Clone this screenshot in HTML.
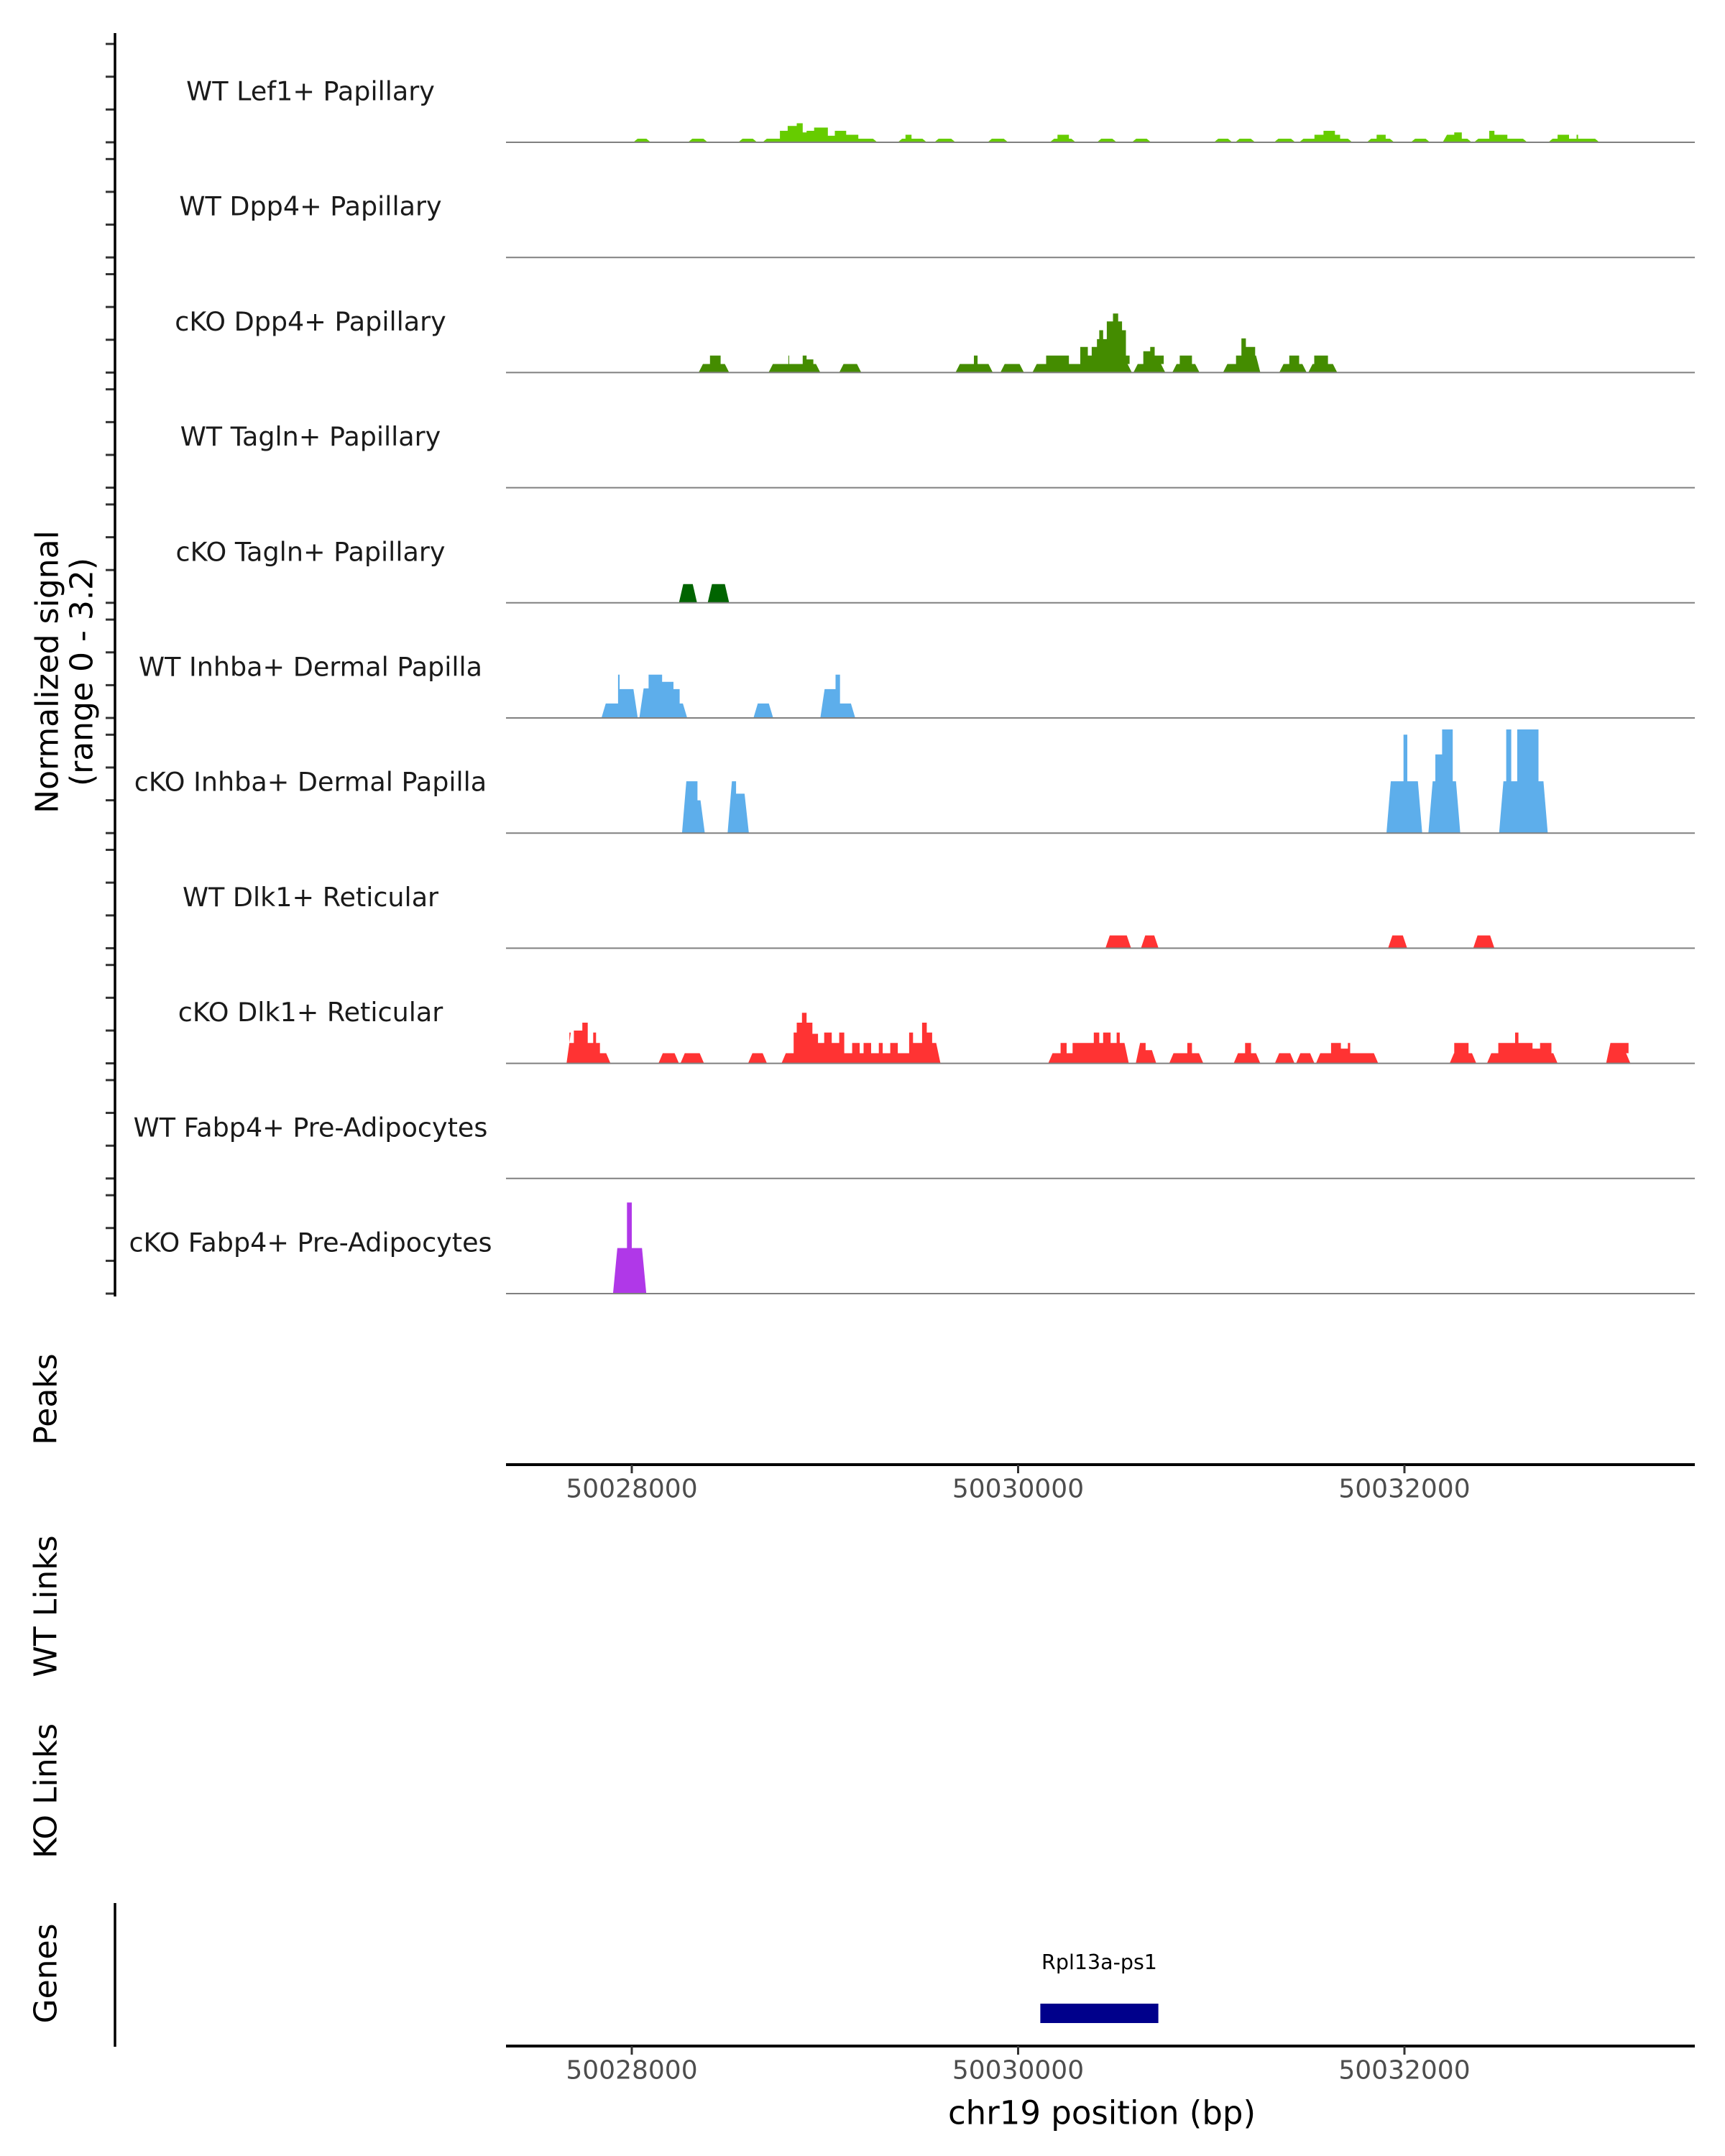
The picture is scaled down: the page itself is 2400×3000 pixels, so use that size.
<!DOCTYPE html>
<html><head><meta charset="utf-8">
<style>
html,body{margin:0;padding:0;background:#fff;}
svg{display:block;font-family:"DejaVu Sans","Liberation Sans",sans-serif;}
</style></head>
<body>
<svg id="chart" width="2400" height="3000" viewBox="0 0 2400 3000" xmlns="http://www.w3.org/2000/svg">
<g id="tracks"></g>
<g id="axes"></g>
</svg>
<script>
// genomic data: bins are [start, end, value], start/end offsets from BASE bp
const BASE = 50027000;
const trackNames = ["WT Lef1+ Papillary","WT Dpp4+ Papillary","cKO Dpp4+ Papillary","WT Tagln+ Papillary","cKO Tagln+ Papillary","WT Inhba+ Dermal Papilla","cKO Inhba+ Dermal Papilla","WT Dlk1+ Reticular","cKO Dlk1+ Reticular","WT Fabp4+ Pre-Adipocytes","cKO Fabp4+ Pre-Adipocytes"];
const trackColors = ["#66cc00","#448c00","#448c00","#006400","#006400","#5daeeb","#5daeeb","#ff3333","#ff3333","#b038e8","#b038e8"];
const wtLef1 = [[1008,1098,.11],[1291,1393,.11],[1551,1649,.11],[1677,1767,.11],[1767,1807,.35],[1807,1854,.5],[1854,1885,.58],[1885,1905,.3],[1905,1944,.35],[1944,2015,.45],[2015,2051,.2],[2051,2074,.35],[2074,2110,.35],[2110,2173,.23],[2173,2271,.11],[2377,2417,.11],[2417,2448,.23],[2448,2527,.11],[2566,2676,.11],[2842,2948,.11],[3164,3204,.11],[3204,3263,.23],[3263,3298,.11],[3408,3510,.11],[3589,3688,.11],[4014,4109,.11],[4124,4227,.11],[4325,4435,.11],[4455,4534,.11],[4534,4581,.23],[4581,4640,.35],[4640,4667,.23],[4667,4730,.11],[4805,4856,.11],[4856,4903,.23],[4903,4947,.11],[5033,5132,.11],[5198,5258,.23],[5258,5297,.3],[5297,5348,.11],[5360,5439,.11],[5439,5466,.35],[5466,5533,.23],[5533,5636,.11],[5745,5793,.11],[5793,5852,.23],[5852,5891,.11],[5891,5899,.23],[5899,6009,.11]];
const wtDpp4 = [];
const ckoDpp4 = [[1346,1405,.26],[1405,1460,.52],[1460,1504,.26],[1708,1811,.26],[1811,1815,.52],[1815,1885,.26],[1885,1905,.52],[1905,1940,.4],[1940,1976,.26],[2074,2188,.26],[2676,2771,.26],[2771,2790,.52],[2790,2869,.26],[2908,3030,.26],[3074,3145,.26],[3145,3263,.52],[3263,3322,.26],[3322,3361,.78],[3361,3381,.52],[3381,3408,.78],[3408,3420,1.02],[3420,3440,1.29],[3440,3459,1.02],[3459,3491,1.56],[3491,3518,1.8],[3518,3538,1.56],[3538,3558,1.29],[3558,3577,.52],[3577,3589,.26],[3597,3648,.26],[3648,3684,.65],[3684,3707,.78],[3707,3754,.52],[3754,3762,.26],[3798,3837,.26],[3837,3900,.52],[3900,3939,.26],[4061,4128,.26],[4128,4156,.52],[4156,4179,1.04],[4179,4227,.78],[4227,4254,.52],[4352,4404,.26],[4404,4455,.52],[4455,4494,.26],[4502,4533,.26],[4533,4604,.52],[4604,4652,.26]];
const wtTagln = [];
const ckoTagln = [[1244,1338,.57],[1393,1504,.57]];
const wtInhba = [[843,929,.44],[929,937,1.32],[937,1031,.88],[1039,1087,.9],[1087,1157,1.32],[1157,1216,1.1],[1216,1248,.88],[1248,1287,.44],[1630,1732,.44],[1976,2055,.88],[2055,2078,1.32],[2078,2157,.44]];
const ckoInhba = [[1260,1340,1.58],[1340,1378,1.0],[1496,1540,1.58],[1540,1606,1.2],[4907,4995,1.58],[4995,5015,3.0],[5015,5092,1.58],[5124,5160,1.58],[5160,5195,2.4],[5195,5250,3.16],[5250,5289,1.58],[5490,5527,1.58],[5527,5553,3.16],[5553,5584,1.58],[5584,5694,3.16],[5694,5742,1.58]];
const wtDlk1 = [[3452,3585,.39],[3636,3727,.39],[4915,5014,.39],[5356,5466,.39]];
const ckoDlk1 = [[662,677,.94],[677,700,.62],[700,744,1.0],[744,772,1.24],[772,800,.62],[800,815,.94],[815,835,.62],[835,890,.31],[1138,1244,.31],[1252,1374,.31],[1602,1700,.31],[1775,1838,.31],[1838,1854,.94],[1854,1881,1.24],[1881,1905,1.54],[1905,1935,1.24],[1935,1964,.9],[1964,1996,.62],[1996,2035,.94],[2035,2074,.62],[2074,2100,.94],[2100,2141,.31],[2141,2180,.62],[2180,2200,.31],[2200,2239,.62],[2239,2279,.31],[2279,2299,.62],[2299,2338,.31],[2338,2377,.62],[2377,2436,.31],[2436,2456,.94],[2456,2503,.62],[2503,2527,1.24],[2527,2555,.94],[2555,2598,.62],[3156,3220,.31],[3220,3251,.62],[3251,3282,.31],[3282,3392,.62],[3392,3420,.94],[3420,3440,.62],[3440,3479,.94],[3479,3510,.62],[3510,3526,.94],[3526,3573,.62],[3609,3660,.62],[3660,3715,.4],[3782,3876,.31],[3876,3900,.62],[3900,3959,.31],[4116,4175,.31],[4175,4206,.62],[4206,4254,.31],[4329,4431,.31],[4439,4534,.31],[4542,4620,.31],[4620,4671,.62],[4671,4707,.45],[4707,4719,.62],[4719,4864,.31],[5234,5258,.31],[5258,5332,.62],[5332,5372,.31],[5427,5486,.31],[5486,5573,.62],[5573,5590,.94],[5590,5663,.62],[5663,5702,.45],[5702,5761,.62],[5761,5793,.31],[6044,6160,.62],[6160,6170,.31]];
const wtFabp4 = [];
const ckoFabp4 = [[903,975,1.39],[975,1000,2.78],[1000,1075,1.39]];
const trackData = [wtLef1,wtDpp4,ckoDpp4,wtTagln,ckoTagln,wtInhba,ckoInhba,wtDlk1,ckoDlk1,wtFabp4,ckoFabp4];
const xTicks = [50028000,50030000,50032000];
const yMax = 3.2;
const gene = {name:"Rpl13a-ps1", start:50030115, end:50030726};

const NS = "http://www.w3.org/2000/svg";
const X0 = 704, X1 = 2358;
const xScale = bp => 879 + (bp - 50028000) * 0.26875;
const TRACK_TOP0 = 198, TRACK_STEP = 160.2, TRACK_H = 146;
const baseY = i => TRACK_TOP0 + i * TRACK_STEP;
const yScale = (i, v) => baseY(i) - v / yMax * TRACK_H;
function mk(tag, attrs, parent){ const e=document.createElementNS(NS,tag); for(const k in attrs) e.setAttribute(k,attrs[k]); parent.appendChild(e); return e; }
const tracks = document.getElementById('tracks');
const axes = document.getElementById('axes');

trackData.forEach((bins, i) => {
  const g = mk('g', {}, tracks);
  
  
  const runs = []; let cur = null;
  bins.forEach(b => {
    if (cur && Math.abs(cur[cur.length-1][1] - b[0]) < 1) cur.push(b);
    else { cur = [b]; runs.push(cur); }
  });
  runs.forEach(run => {
    const pts = [];
    const ramp = 6;
    pts.push([xScale(BASE+run[0][0]), baseY(i)]);
    run.forEach((b, k) => {
      const xa = xScale(BASE+b[0]) + (k===0?ramp:0);
      const xb = xScale(BASE+b[1]) - (k===run.length-1?ramp:0);
      pts.push([xa, yScale(i,b[2])]); pts.push([xb, yScale(i,b[2])]);
    });
    pts.push([xScale(BASE+run[run.length-1][1]), baseY(i)]);
    const p = mk('polygon', {points: pts.map(q=>q[0].toFixed(1)+','+q[1].toFixed(1)).join(' '), fill: trackColors[i]}, g);
    
    
  });
  const ln = mk('line', {x1:X0, x2:X1, y1:baseY(i), y2:baseY(i), stroke:'#808080', 'stroke-width':2}, g);
  
  
  const t = mk('text', {x:432, y:baseY(i)-71, 'text-anchor':'middle', 'dominant-baseline':'central', 'font-size':36.5, fill:'#1a1a1a'}, g);
  t.textContent = trackNames[i];
  
  
  for (let k=0;k<4;k++){
    const ty = baseY(i) - k * TRACK_H / yMax;
    const tk = mk('line', {x1:147, x2:159, y1:ty, y2:ty, stroke:'#333', 'stroke-width':3}, axes);
    
    
  }
});
const yAxis = mk('line', {x1:160, x2:160, y1:46, y2:1804, stroke:'#000', 'stroke-width':3.5}, axes);



function vtext(txt, x, y, size, name){
  const t = mk('text', {x:x, y:y, transform:`rotate(-90 ${x} ${y})`, 'text-anchor':'middle', 'dominant-baseline':'central', 'font-size':size, fill:'#000'}, axes);
  t.textContent = txt;
  
  
}
vtext('Normalized signal', 66, 935, 44, 'y-axis-title');
vtext('(range 0 - 3.2)', 114, 935, 44, 'y-axis-range');
vtext('Peaks', 64, 1947, 44, 'peaks-title');
vtext('WT Links', 64, 2235, 44, 'wt-links-title');
vtext('KO Links', 64, 2492, 44, 'ko-links-title');
vtext('Genes', 64, 2746, 44, 'genes-title');

function xAxis(y, name){
  const l = mk('line', {x1:X0, x2:X1, y1:y, y2:y, stroke:'#000', 'stroke-width':4}, axes);
  
  
  xTicks.forEach(v => {
    const tk = mk('line', {x1:xScale(v), x2:xScale(v), y1:y, y2:y+12, stroke:'#333', 'stroke-width':3}, axes);
    
    
    const t = mk('text', {x:xScale(v), y:y+34, 'text-anchor':'middle', 'dominant-baseline':'central', 'font-size':36, fill:'#4d4d4d'}, axes);
    t.textContent = String(v);
    
    
  });
}
xAxis(2038, 'peaks-x-axis');
xAxis(2847, 'genes-x-axis');

const gl = mk('line', {x1:160, x2:160, y1:2648, y2:2848, stroke:'#000', 'stroke-width':3.5}, axes);


const gr = mk('rect', {x:xScale(gene.start), y:2788, width:xScale(gene.end)-xScale(gene.start), height:27, fill:'#00008b'}, axes);


const gt = mk('text', {x:(xScale(gene.start)+xScale(gene.end))/2, y:2740, 'text-anchor':'middle', 'font-size':28.5, fill:'#000'}, axes);
gt.textContent = gene.name;


const xt = mk('text', {x:1533, y:2940, 'text-anchor':'middle', 'dominant-baseline':'central', 'font-size':45, fill:'#000'}, axes);
xt.textContent = 'chr19 position (bp)';


</script>
</body></html>
